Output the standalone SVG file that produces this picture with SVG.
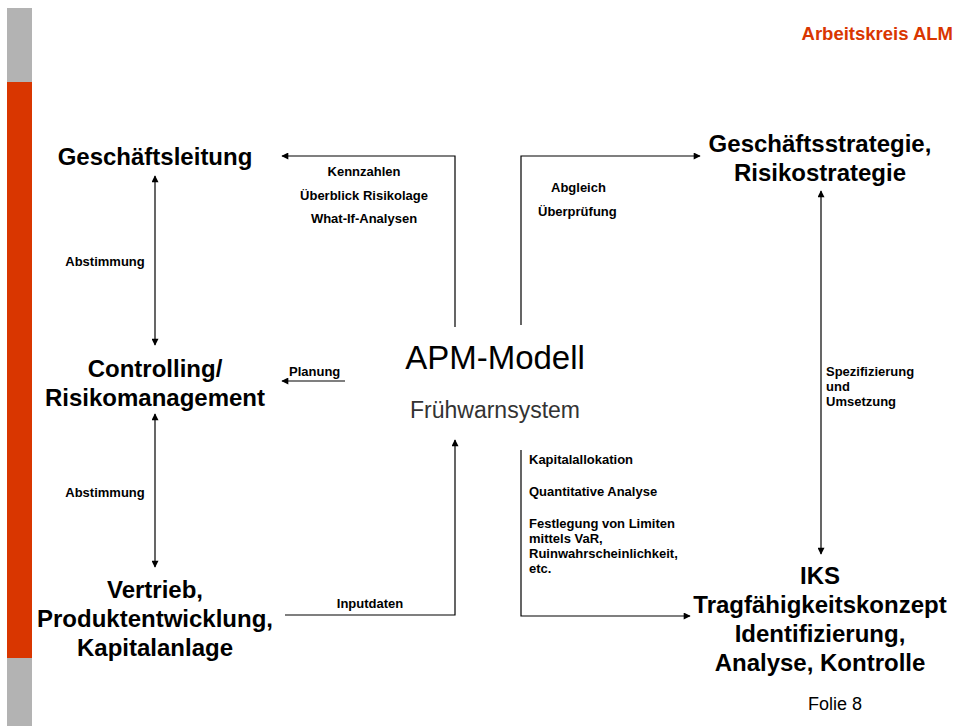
<svg xmlns="http://www.w3.org/2000/svg" width="954" height="726" viewBox="0 0 954 726">
<defs>
<marker id="ah" viewBox="0 0 10 10" refX="9" refY="5" markerWidth="9" markerHeight="7" markerUnits="userSpaceOnUse" orient="auto-start-reverse">
<path d="M0,0 L10,5 L0,10 z" fill="#000"/>
</marker>
<style>
.big{font-family:"Liberation Sans",Arial,sans-serif;font-size:24px;font-weight:bold;fill:#000;text-anchor:middle}
.sm{font-family:"Liberation Sans",Arial,sans-serif;font-size:13px;font-weight:bold;fill:#000}
.ln{fill:none;stroke:#000;stroke-width:1.2}
</style>
</defs>
<rect width="954" height="726" fill="#fff"/>
<g id="sidebar">
<rect x="7" y="8" width="25" height="74" fill="#b3b3b3"/>
<rect x="7" y="82" width="25" height="576" fill="#d93600"/>
<rect x="7" y="658" width="25" height="68" fill="#b3b3b3"/>
</g>
<text x="953" y="40" text-anchor="end" style="font-family:'Liberation Sans',Arial,sans-serif;font-size:18.5px;font-weight:bold;fill:#d93600">Arbeitskreis ALM</text>
<text x="862" y="710" text-anchor="end" style="font-family:'Liberation Sans',Arial,sans-serif;font-size:18px;fill:#000">Folie 8</text>

<g id="connectors">
<polyline class="ln" points="455,327 455,156 282,156" marker-end="url(#ah)"/>
<polyline class="ln" points="521,325 521,156 700,156" marker-end="url(#ah)"/>
<line class="ln" x1="155" y1="176" x2="155" y2="345" marker-start="url(#ah)" marker-end="url(#ah)"/>
<line class="ln" x1="155" y1="414" x2="155" y2="567" marker-start="url(#ah)" marker-end="url(#ah)"/>
<line class="ln" x1="345" y1="381" x2="282" y2="381" marker-end="url(#ah)"/>
<polyline class="ln" points="285,615 455,615 455,440" marker-end="url(#ah)"/>
<polyline class="ln" points="521,450 521,616 690,616" marker-end="url(#ah)"/>
<line class="ln" x1="821" y1="191" x2="821" y2="554" marker-start="url(#ah)" marker-end="url(#ah)"/>
</g>

<g id="labels">
<text class="sm" x="364" y="176" text-anchor="middle">Kennzahlen</text>
<text class="sm" x="364" y="200" text-anchor="middle">Überblick Risikolage</text>
<text class="sm" x="364" y="223" text-anchor="middle">What-If-Analysen</text>
<text class="sm" x="551" y="192">Abgleich</text>
<text class="sm" x="538" y="216">Überprüfung</text>
<text class="sm" x="105" y="266" text-anchor="middle">Abstimmung</text>
<text class="sm" x="105" y="497" text-anchor="middle">Abstimmung</text>
<text class="sm" x="289" y="376">Planung</text>
<text class="sm" x="370" y="608" text-anchor="middle">Inputdaten</text>
<text class="sm" x="529" y="464">Kapitalallokation</text>
<text class="sm" x="529" y="496">Quantitative Analyse</text>
<text class="sm" x="529" y="528">Festlegung von Limiten</text>
<text class="sm" x="529" y="543">mittels VaR,</text>
<text class="sm" x="529" y="558">Ruinwahrscheinlichkeit,</text>
<text class="sm" x="529" y="573">etc.</text>
<text class="sm" x="826" y="376">Spezifizierung</text>
<text class="sm" x="826" y="391">und</text>
<text class="sm" x="826" y="406">Umsetzung</text>
</g>

<g id="geschaeftsleitung"><text class="big" x="155" y="165">Geschäftsleitung</text></g>
<g id="controlling"><text class="big" x="155" y="377">Controlling/</text><text class="big" x="155" y="406">Risikomanagement</text></g>
<g id="vertrieb"><text class="big" x="155" y="598">Vertrieb,</text><text class="big" x="155" y="627">Produktentwicklung,</text><text class="big" x="155" y="656">Kapitalanlage</text></g>
<g id="strategie"><text class="big" x="820" y="152">Geschäftsstrategie,</text><text class="big" x="820" y="181">Risikostrategie</text></g>
<g id="iks"><text class="big" x="820" y="584">IKS</text><text class="big" x="820" y="613">Tragfähigkeitskonzept</text><text class="big" x="820" y="642">Identifizierung,</text><text class="big" x="820" y="671">Analyse, Kontrolle</text></g>
<g id="apm">
<text x="495" y="369" text-anchor="middle" style="font-family:'Liberation Sans',Arial,sans-serif;font-size:33px;fill:#000">APM-Modell</text>
<text x="495" y="418" text-anchor="middle" style="font-family:'Liberation Sans',Arial,sans-serif;font-size:23px;fill:#333">Frühwarnsystem</text>
</g>
</svg>
